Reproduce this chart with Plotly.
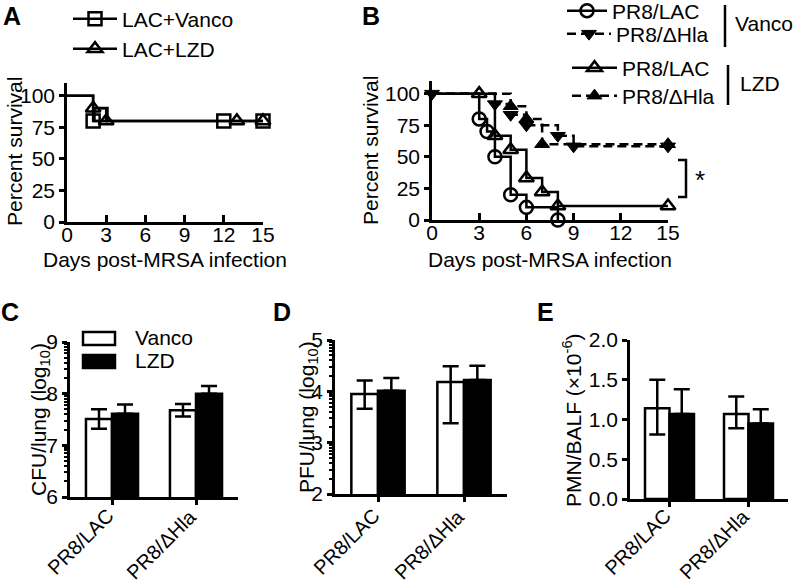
import math
import plotly.graph_objects as go

W, H = 800, 586
FONT = "Arial, Liberation Sans, sans-serif"
FS = 21

def px(x):
    return x / W

def py(y):
    return 1 - y / H

# ---------------- Data ----------------
# Panel A survival (days, percent)
A_van_t = [0, 2, 15]
A_van_s = [100, 80, 80]
A_van_mx = [2, 2.6, 12, 15]
A_van_my = [80, 85, 80, 80]
A_lzd_t = [0, 2, 3, 15]
A_lzd_s = [100, 90, 80, 80]
A_lzd_mx = [2, 3, 13, 15]
A_lzd_my = [90, 80, 80, 80]

# Panel B survival
B_vlac_t = [0, 3, 3.5, 4, 5, 6, 8]
B_vlac_s = [100, 80, 70, 50, 20, 10, 0]
B_vhla_t = [0, 4, 5, 6, 8, 9, 15]
B_vhla_s = [100, 91.7, 83.3, 75, 66.7, 58.3, 58.3]
B_llac_t = [0, 3, 4, 5, 6, 7, 8, 15]
B_llac_s = [100, 100, 66.7, 55.6, 33.3, 22.2, 11.1, 11.1]
B_lhla_t = [0, 5, 6, 7, 15]
B_lhla_s = [100, 90, 80, 60, 60]

surv_xticks = [0, 3, 6, 9, 12, 15]
surv_yticks = [0, 25, 50, 75, 100]

# Bar panels
groups = ["PR8/LAC", "PR8/ΔHla"]
C_van = [7.51, 7.68]
C_van_err = [0.19, 0.12]
C_lzd = [7.61, 8.00]
C_lzd_err = [0.18, 0.15]

D_van = [3.95, 4.18]
D_van_err_up = [0.26, 0.31]
D_van_err_dn = [0.29, 0.80]
D_lzd = [4.01, 4.22]
D_lzd_err = [0.25, 0.28]

E_van = [1.14, 1.07]
E_van_err_up = [0.36, 0.22]
E_van_err_dn = [0.33, 0.18]
E_lzd = [1.07, 0.95]
E_lzd_err = [0.31, 0.18]

C_ticks = [6, 7, 8, 9]
D_ticks = [2, 3, 4, 5]
E_ticks = [0.0, 0.5, 1.0, 1.5, 2.0]
E_ticktext = ["0.0", "0.5", "1.0", "1.5", "2.0"]


def log_minor(lo, hi):
    out = []
    for d in range(lo, hi):
        for k in range(2, 10):
            out.append(d + math.log10(k))
    return out

fig = go.Figure()

LW = 2.5
MS = 13

def mstyle(symbol):
    if "open" in symbol:
        return dict(symbol=symbol, size=MS, color="black", line=dict(color="black", width=2.5))
    return dict(symbol=symbol, size=MS, color="black", line=dict(color="black", width=1))

def step(xa, ya, t, s, dash="solid"):
    fig.add_trace(go.Scatter(x=t, y=s, mode="lines", line=dict(color="black", width=LW, shape="hv", dash=dash),
                             xaxis=xa, yaxis=ya, showlegend=False, cliponaxis=False, hoverinfo="skip"))

def marks(xa, ya, x, y, symbol):
    fig.add_trace(go.Scatter(x=x, y=y, mode="markers", marker=mstyle(symbol),
                             xaxis=xa, yaxis=ya, showlegend=False, cliponaxis=False, hoverinfo="skip"))

def leg(name, symbol, dash, legend):
    fig.add_trace(go.Scatter(x=[None], y=[None], mode="lines+markers", name=name,
                             line=dict(color="black", width=LW, dash=dash), marker=mstyle(symbol),
                             xaxis="x", yaxis="y", legend=legend, showlegend=True))

# Panel A
step("x", "y", A_van_t, A_van_s)
step("x", "y", A_lzd_t, A_lzd_s)
marks("x", "y", A_van_mx, A_van_my, "square-open")
marks("x", "y", A_lzd_mx, A_lzd_my, "triangle-up-open")
leg("LAC+Vanco", "square-open", "solid", "legend")
leg("LAC+LZD", "triangle-up-open", "solid", "legend2")

# Panel B
DASH = "9px,5px"
step("x2", "y2", B_vlac_t, B_vlac_s)
step("x2", "y2", B_llac_t, B_llac_s)
step("x2", "y2", B_vhla_t, B_vhla_s, DASH)
step("x2", "y2", B_lhla_t, B_lhla_s, DASH)
marks("x2", "y2", B_vlac_t[1:], B_vlac_s[1:], "circle-open")
marks("x2", "y2", B_llac_t[1:], B_llac_s[1:], "triangle-up-open")
marks("x2", "y2", B_vhla_t, B_vhla_s, "triangle-down")
marks("x2", "y2", B_lhla_t[1:], B_lhla_s[1:], "triangle-up")
leg("PR8/LAC", "circle-open", "solid", "legend3")
leg("PR8/ΔHla", "triangle-down", DASH, "legend4")
leg("PR8/LAC", "triangle-up-open", "solid", "legend5")
leg("PR8/ΔHla", "triangle-up", DASH, "legend6")

# Bars
def bars(xa, ya, van, van_up, van_dn, lzd, lzd_up):
    fig.add_trace(go.Bar(x=groups, y=van, name="Vanco", xaxis=xa, yaxis=ya,
                         marker=dict(color="white", line=dict(color="black", width=2.5)),
                         error_y=dict(type="data", array=van_up, arrayminus=van_dn, color="black",
                                      thickness=2.5, width=8),
                         showlegend=False, offsetgroup="v"))
    fig.add_trace(go.Bar(x=groups, y=lzd, name="LZD", xaxis=xa, yaxis=ya,
                         marker=dict(color="black", line=dict(color="black", width=2.5)),
                         error_y=dict(type="data", array=lzd_up, arrayminus=[0, 0], color="black",
                                      thickness=2.5, width=8),
                         showlegend=False, offsetgroup="l"))

bars("x3", "y3", C_van, C_van_err, C_van_err, C_lzd, C_lzd_err)
bars("x4", "y4", D_van, D_van_err_up, D_van_err_dn, D_lzd, D_lzd_err)
bars("x5", "y5", E_van, E_van_err_up, E_van_err_dn, E_lzd, E_lzd_err)

tickfont = dict(size=FS, color="black", family=FONT)
yax = dict(showline=True, linewidth=LW, linecolor="black", ticks="outside", ticklen=5,
           tickwidth=LW, tickcolor="black", showgrid=False, zeroline=False, automargin=False,
           tickfont=tickfont)
xsurv = dict(yax)
xsurv.update(ticks="inside", ticklen=7, ticklabelstandoff=-8)

yA = [py(222), py(83)]
yB = [py(220), py(81)]
fig.update_layout(
    xaxis=dict(domain=[px(67), px(263)], range=[0, 15], tickvals=surv_xticks, anchor="y", **xsurv),
    yaxis=dict(domain=yA, range=[0, 110], tickvals=surv_yticks, anchor="x", **yax),
    xaxis2=dict(domain=[px(432), px(668)], range=[0, 15], tickvals=surv_xticks, anchor="y2", **xsurv),
    yaxis2=dict(domain=yB, range=[0, 110], tickvals=surv_yticks, anchor="x2", **yax),
)

bar_x = dict(yax)
bar_x.update(ticks="outside", ticklen=5, type="category", showticklabels=False)
minor_style = dict(tickmode="array", ticks="outside", ticklen=3.5, tickwidth=1.5, tickcolor="black")
fig.update_layout(
    xaxis3=dict(domain=[px(70), px(238)], range=[-0.5, 1.5], anchor="y3", **bar_x),
    yaxis3=dict(domain=[py(497), py(342)], range=[6, 9], tickvals=C_ticks, anchor="x3",
                minor=dict(tickvals=log_minor(6, 9), **minor_style), **yax),
    xaxis4=dict(domain=[px(335), px(507)], range=[-0.5, 1.5], anchor="y4", **bar_x),
    yaxis4=dict(domain=[py(494), py(340)], range=[2, 5], tickvals=D_ticks, anchor="x4",
                minor=dict(tickvals=log_minor(2, 5), **minor_style), **yax),
    xaxis5=dict(domain=[px(630), px(788)], range=[-0.5, 1.5], anchor="y5", **bar_x),
    yaxis5=dict(domain=[py(499), py(340)], range=[0, 2], tickvals=E_ticks, ticktext=E_ticktext,
                anchor="x5", **yax),
    barmode="group", bargap=0.38, bargroupgap=0,
)

legfont = dict(size=FS, color="black", family=FONT)
def legend_at(x, y, iw):
    return dict(x=px(x), y=py(y), xanchor="left", yanchor="middle", font=legfont, itemwidth=iw,
                bgcolor="rgba(0,0,0,0)")

fig.update_layout(
    legend=legend_at(68, 19, 44),
    legend2=legend_at(68, 49, 44),
    legend3=legend_at(562, 11, 40),
    legend4=legend_at(562, 34, 44),
    legend5=legend_at(567, 68, 45),
    legend6=legend_at(567, 96, 45),
)

ann = []
def text(x, y, t, size=FS, bold=False, angle=0, xanchor="center", yanchor="middle", xref="paper", xshift=0):
    ann.append(dict(x=px(x) if xref == "paper" else x, y=py(y), xref=xref, yref="paper",
                    text=("<b>%s</b>" % t) if bold else t, xshift=xshift,
                    showarrow=False, textangle=angle, xanchor=xanchor, yanchor=yanchor,
                    font=dict(size=size, color="black", family=FONT)))

text(12, 0, "A", 25, True, yanchor="top")
text(371, 0, "B", 25, True, yanchor="top")
text(10, 312, "C", 25, True)
text(282, 312, "D", 25, True)
text(545, 312, "E", 25, True)
text(15, 152, "Percent survival", angle=-90)
text(371, 151, "Percent survival", angle=-90)
text(165, 259, "Days post-MRSA infection")
text(550, 259, "Days post-MRSA infection")
text(40, 420, "CFU/lung (log<sub>10</sub>)", angle=-90)
text(308, 417, "PFU/lung (log<sub>10</sub>)", angle=-90)
text(572, 420, "PMN/BALF (×10<sup>-6</sup>)", angle=-90)
text(733, 23, "Vanco", xanchor="left")
text(738, 83, "LZD", xanchor="left")
text(700, 180, "*", 26)
# bar legend labels
text(133, 337, "Vanco", xanchor="left")
text(133, 361, "LZD", xanchor="left")
# rotated category labels
for xa in ["x3", "x4", "x5"]:
    for g in groups:
        text(g, 502, g, size=20, angle=-45, xanchor="right", yanchor="top", xref=xa, xshift=8)

blk = dict(color="black", width=2.5)
shapes = [
    dict(type="line", xref="paper", yref="paper", x0=px(725), x1=px(725), y0=py(5), y1=py(47), line=blk),
    dict(type="line", xref="paper", yref="paper", x0=px(728), x1=px(728), y0=py(65), y1=py(105), line=blk),
    dict(type="path", xref="paper", yref="paper",
         path="M %f %f L %f %f L %f %f L %f %f" % (px(678), py(160), px(686), py(160), px(686), py(197), px(678), py(197)),
         line=blk),
    dict(type="rect", xref="paper", yref="paper", x0=px(83), x1=px(115), y0=py(332), y1=py(345),
         line=blk, fillcolor="white"),
    dict(type="rect", xref="paper", yref="paper", x0=px(83), x1=px(115), y0=py(355), y1=py(368),
         line=blk, fillcolor="black"),
]

fig.update_layout(annotations=ann, shapes=shapes, width=W, height=H,
                  margin=dict(l=0, r=0, t=0, b=0, autoexpand=False),
                  paper_bgcolor="white", plot_bgcolor="white",
                  font=dict(family=FONT, color="black"))

post = ("document.body.style.margin='0px';document.body.style.overflow='hidden';"
        "var d=document.getElementById('{plot_id}');d.style.position='absolute';"
        "d.style.left='0px';d.style.top='0px';")
fig.write_html("out.html", config={"displayModeBar": False}, post_script=post)
